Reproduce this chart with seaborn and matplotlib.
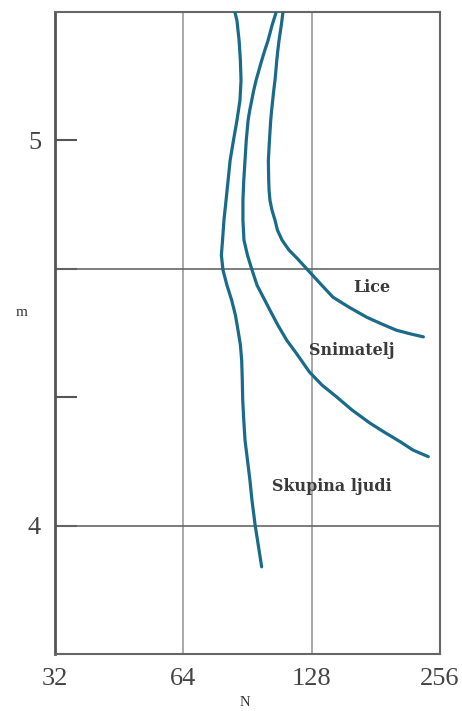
import numpy as np
import pandas as pd
import matplotlib
matplotlib.use("Agg")
import matplotlib.pyplot as plt
import seaborn as sns

# Curve readings (N, m)
skupina_n = [84.6, 85.5, 86.5, 87.1, 87.4, 86.9, 85.5, 83.9, 82.4, 81.5, 80.6, 79.7, 79.1, 78.6,
             79.3, 81.0, 83.1, 84.8, 86.0, 87.1, 87.7, 88.0, 88.2, 88.7, 89.3, 90.5, 91.7, 92.7,
             94.3, 97.7]
skupina_m = [5.332, 5.311, 5.259, 5.207, 5.156, 5.104, 5.052, 5.000, 4.948, 4.896, 4.844, 4.793,
             4.741, 4.702, 4.663, 4.624, 4.585, 4.546, 4.507, 4.469, 4.430, 4.378, 4.326, 4.274,
             4.222, 4.170, 4.118, 4.067, 4.002, 3.893]

snimatelj_n = [105.6, 103.3, 101.1, 99.3, 97.7, 96.2, 94.8, 93.6, 92.6, 91.6, 90.8, 89.9, 89.3,
               88.7, 88.3, 88.3, 88.8, 90.5, 92.6, 95.3, 102.2, 106.7, 111.9, 118.6, 126.4,
               135.3, 146.5, 159.2, 175.4, 189.2, 206.3, 221.3, 240.3]
snimatelj_m = [5.332, 5.298, 5.259, 5.233, 5.207, 5.181, 5.156, 5.130, 5.104, 5.078, 5.052,
               5.000, 4.948, 4.896, 4.844, 4.793, 4.741, 4.702, 4.666, 4.624, 4.559, 4.520,
               4.481, 4.443, 4.399, 4.365, 4.334, 4.300, 4.266, 4.243, 4.218, 4.196, 4.179]

lice_n = [109.6, 108.6, 107.3, 106.6, 106.0, 105.5, 105.0, 104.3, 103.7, 103.1, 102.6, 101.9,
          101.3, 101.5, 101.7, 102.2, 103.3, 105.0, 106.4, 109.1, 113.3, 118.3, 125.5, 133.9,
          143.6, 156.6, 172.3, 187.2, 202.6, 217.7, 234.0]
lice_m = [5.332, 5.298, 5.259, 5.233, 5.207, 5.181, 5.156, 5.130, 5.104, 5.078, 5.052, 5.000,
          4.948, 4.896, 4.870, 4.844, 4.819, 4.793, 4.767, 4.741, 4.715, 4.694, 4.663, 4.629,
          4.593, 4.567, 4.541, 4.523, 4.507, 4.498, 4.490]

labels = ["Lice", "Snimatelj", "Skupina ljudi"]
label_n = [177.0, 158.9, 142.6]
label_m = [4.619, 4.454, 4.101]

x_ticks = [32, 64, 128, 256]
y_ticks = [4, 4 + 1/3, 4 + 2/3, 5]
y_labels = ["4", "", "", "5"]

sns.set_style("white")
line_color = "#1a6b8a"

fig = plt.figure(figsize=(4.62, 7.11), dpi=100)
ax = fig.add_axes([55/462, 1 - 654/711, 385/462, 642/711])

ax.set_xscale("log", base=2)
ax.set_xlim(32, 256)
ax.set_ylim(3 + 2/3, 5 + 1/3)

# grid
for xv in [64, 128]:
    ax.axvline(xv, color="#9a9a9a", lw=1.2, zorder=1)
for yv in [4, 4 + 2/3]:
    ax.axhline(yv, color="#666666", lw=1.2, zorder=1)

for n, m in [(skupina_n, skupina_m), (snimatelj_n, snimatelj_m), (lice_n, lice_m)]:
    df = pd.DataFrame({"N": n, "m": m})
    sns.lineplot(data=df, x="N", y="m", sort=False, estimator=None,
                 color=line_color, lw=2.3, ax=ax, zorder=3,
                 solid_capstyle="round", solid_joinstyle="round")

for t, xn, ym in zip(labels, label_n, label_m):
    ax.text(xn, ym, t, ha="center", va="center", fontsize=11.5,
            family="DejaVu Serif", weight="bold", color="#3a3a3a")

ax.set_xticks(x_ticks)
ax.set_xticklabels([str(v) for v in x_ticks])
ax.xaxis.set_minor_locator(matplotlib.ticker.NullLocator())
ax.set_yticks(y_ticks)
ax.set_yticklabels(y_labels)
ax.tick_params(axis="x", bottom=False, length=0, pad=10, labelsize=19, labelcolor="#444444")
ax.tick_params(axis="y", left=True, direction="in", length=16, width=1.5, color="#555555",
               pad=10, labelsize=19, labelcolor="#444444")
for lab in ax.get_xticklabels() + ax.get_yticklabels():
    lab.set_family("Liberation Serif")

for side in ["top", "right", "bottom"]:
    ax.spines[side].set_color("#666666")
    ax.spines[side].set_linewidth(1.5)
ax.spines["left"].set_color("#555555")
ax.spines["left"].set_linewidth(2.0)
ax.set_xlabel("")
ax.set_ylabel("")

fig.text(21.7/462, 1 - 313/711, "m", ha="center", va="center", fontsize=11,
         family="Liberation Serif", color="#333333")
fig.text(245/462, 1 - 703/711, "N", ha="center", va="center", fontsize=10.5,
         family="Liberation Serif", color="#333333")

fig.savefig("out.png", dpi=100)
